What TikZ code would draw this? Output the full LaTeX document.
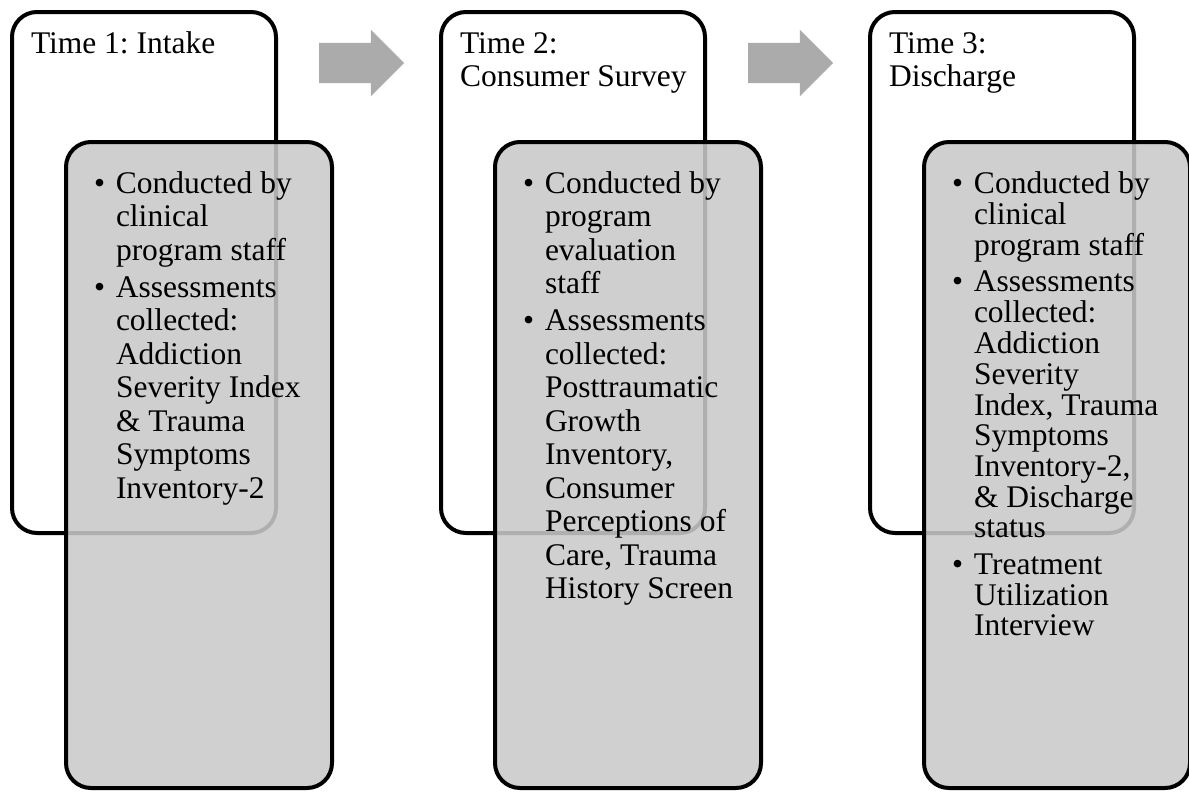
\documentclass[tikz,border=0pt]{standalone}
\usepackage{fontspec}
\setmainfont{Liberation Serif}
\frenchspacing
\usepackage{tikz}
\usetikzlibrary{shapes.arrows}
\newcommand{\itm}{\makebox[22pt][l]{\textbullet}}

\begin{document}
\begin{tikzpicture}[
  x=1pt, y=-1pt,
  every node/.style={font=\fontsize{31.5}{33.5}\selectfont, inner sep=0pt, outer sep=0pt},
  stage/.style={draw, line width=4pt, rounded corners=25pt, fill=white, minimum width=264pt, minimum height=521pt},
  detail/.style={draw, line width=4pt, rounded corners=25pt, fill=black!21, fill opacity=0.875, minimum width=266pt, minimum height=646pt},
  nxt/.style={single arrow, fill=black!33, inner ysep=20pt, minimum height=85pt, minimum width=66pt, single arrow head extend=13pt},
  lab/.style={anchor=base west}
]
\useasboundingbox (0,0) rectangle (1189,793);

\node[stage]  (time1) at (144, 272.5) {};
\node[stage]  (time2) at (573, 272.5) {};
\node[stage]  (time3) at (1002, 272.5) {};
\node[detail] (det1)  at (199, 465) {};
\node[detail] (det2)  at (628, 465) {};
\node[detail] (det3)  at (1057, 465) {};

\node[nxt] (arr1) at (351.5, 63) {};
\node[nxt] (arr2) at (780.5, 63) {};

\node[lab] (title1) at (31, 53) {\begin{tabular}[t]{@{}l@{}}Time 1: Intake\end{tabular}};
\node[lab] (title2) at (460, 53) {\begin{tabular}[t]{@{}l@{}}Time 2:\\Consumer Survey\end{tabular}};
\node[lab] (title3) at (889, 53) {\begin{tabular}[t]{@{}l@{}}Time 3:\\Discharge\end{tabular}};

\node[lab] (list1) at (94, 193) {\begin{tabular}[t]{@{}l@{}l@{}}
\itm & Conducted by\\ & clinical\\ & program staff\\[3.5pt]
\itm & Assessments\\ & collected:\\ & Addiction\\ & Severity Index\\ & \& Trauma\\ & Symptoms\\ & Inventory-2
\end{tabular}};
\node[lab] (list2) at (523, 193) {\begin{tabular}[t]{@{}l@{}l@{}}
\itm & Conducted by\\ & program\\ & evaluation\\ & staff\\[3.5pt]
\itm & Assessments\\ & collected:\\ & Posttraumatic\\ & Growth\\ & Inventory,\\ & Consumer\\ & Perceptions of\\ & Care, Trauma\\ & History Screen
\end{tabular}};
\node[lab, font=\fontsize{31.5}{30.5}\selectfont] (list3) at (952, 193) {\begin{tabular}[t]{@{}l@{}l@{}}
\itm & Conducted by\\ & clinical\\ & program staff\\[6pt]
\itm & Assessments\\ & collected:\\ & Addiction\\ & Severity\\ & Index, Trauma\\ & Symptoms\\ & Inventory-2,\\ & \& Discharge\\ & status\\[6pt]
\itm & Treatment\\ & Utilization\\ & Interview
\end{tabular}};
\end{tikzpicture}
\end{document}
